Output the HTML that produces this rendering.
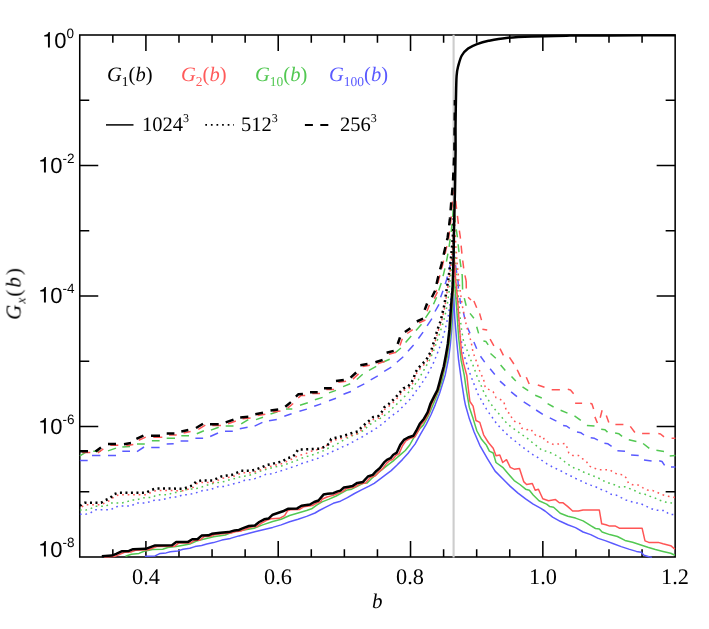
<!DOCTYPE html>
<html><head><meta charset="utf-8"><title>plot</title>
<style>
html,body{margin:0;padding:0;background:#fff;}
body{text-rendering:geometricPrecision;-webkit-font-smoothing:antialiased;width:709px;height:629px;position:relative;overflow:hidden;font-family:"Liberation Serif",serif;color:#000;}
.t{will-change:transform;position:absolute;white-space:nowrap;line-height:1;}
.xt{font-family:"Liberation Serif",serif;font-size:22.3px;transform:translateX(-50%);top:565.8px;}
.yt{font-family:"Liberation Sans",sans-serif;font-size:22px;text-align:right;right:635px;}
.yt sup{font-size:13.5px;vertical-align:baseline;position:relative;top:-10px;line-height:0;}
.z{display:inline-block;transform:scaleX(0.9);margin:0 -0.9px 0 -1px}
.one{display:inline-block;vertical-align:baseline;overflow:visible}
.lg{font-family:"Liberation Serif",serif;font-size:20.5px;top:64.5px;}
.lg i{font-style:italic;}
.lg sub{font-size:13.5px;vertical-align:baseline;position:relative;top:4.5px;line-height:0;}
.l2{font-family:"Liberation Serif",serif;font-size:20.5px;top:114.8px;}
.l2 sup{font-size:12px;vertical-align:baseline;position:relative;top:-9.5px;line-height:0;}
</style></head><body>
<svg width="709" height="629" viewBox="0 0 709 629" style="position:absolute;left:0;top:0">
<defs><clipPath id="cp"><rect x="79.0" y="34.2" width="597.0" height="523.6"/></clipPath></defs>
<g stroke="#000" stroke-width="1.55" fill="none">
<rect x="79.75" y="35.00" width="595.40" height="522.00"/>
<path d="M112.83 557.00 v-7.80 M112.83 35.00 v7.80"/>
<path d="M145.91 557.00 v-16.00 M145.91 35.00 v16.00"/>
<path d="M178.98 557.00 v-7.80 M178.98 35.00 v7.80"/>
<path d="M212.06 557.00 v-7.80 M212.06 35.00 v7.80"/>
<path d="M245.14 557.00 v-7.80 M245.14 35.00 v7.80"/>
<path d="M278.22 557.00 v-16.00 M278.22 35.00 v16.00"/>
<path d="M311.29 557.00 v-7.80 M311.29 35.00 v7.80"/>
<path d="M344.37 557.00 v-7.80 M344.37 35.00 v7.80"/>
<path d="M377.45 557.00 v-7.80 M377.45 35.00 v7.80"/>
<path d="M410.53 557.00 v-16.00 M410.53 35.00 v16.00"/>
<path d="M443.61 557.00 v-7.80 M443.61 35.00 v7.80"/>
<path d="M476.68 557.00 v-7.80 M476.68 35.00 v7.80"/>
<path d="M509.76 557.00 v-7.80 M509.76 35.00 v7.80"/>
<path d="M542.84 557.00 v-16.00 M542.84 35.00 v16.00"/>
<path d="M575.92 557.00 v-7.80 M575.92 35.00 v7.80"/>
<path d="M608.99 557.00 v-7.80 M608.99 35.00 v7.80"/>
<path d="M642.07 557.00 v-7.80 M642.07 35.00 v7.80"/>
<path d="M79.75 100.25 h9.50 M675.15 100.25 h-9.50"/>
<path d="M79.75 165.50 h18.50 M675.15 165.50 h-18.50"/>
<path d="M79.75 230.75 h9.50 M675.15 230.75 h-9.50"/>
<path d="M79.75 296.00 h18.50 M675.15 296.00 h-18.50"/>
<path d="M79.75 361.25 h9.50 M675.15 361.25 h-9.50"/>
<path d="M79.75 426.50 h18.50 M675.15 426.50 h-18.50"/>
<path d="M79.75 491.75 h9.50 M675.15 491.75 h-9.50"/>
</g>
<path d="M453.6 34.7 V557.4" stroke="#cdcdcd" stroke-width="2.1"/>
<g clip-path="url(#cp)">
<path d="M79.9 460.5 L87.7 460.5 M92.0 455.4 L100.4 455.4 M108.0 455.4 L116.0 455.4 M122.3 451.2 L130.0 451.2 M137.0 451.6 L144.0 447.0 M151.2 447.4 L159.6 447.4 M166.7 443.9 L173.7 443.7 M180.6 441.0 L188.3 441.0 M195.4 438.3 L203.1 438.3 M210.2 436.5 L218.0 433.0 M225.0 431.3 L232.8 431.3 M239.8 428.7 L247.6 427.3 M254.6 426.2 L262.4 422.4 M269.0 420.8 L276.8 419.4 M284.3 416.2 L291.6 413.8 M299.4 411.2 L306.9 409.1 M314.2 406.3 L321.2 403.9 M329.0 400.7 L336.0 398.3 M343.5 394.3 L350.9 391.5 M357.2 387.3 L364.3 383.8 M370.7 379.8 L377.8 375.9 M384.2 371.4 L391.3 367.1 M396.9 362.3 L403.3 356.8 M408.0 351.2 L413.6 344.9 M418.4 338.5 L423.1 332.1 M427.1 325.8 L431.9 318.6 M435.0 311.5 L439.0 304.3 M440.6 297.2 L443.0 290.8" stroke="#5a5aff" stroke-width="1.5" fill="none" stroke-linejoin="round" stroke-linecap="butt"/>
<path d="M443.0 290.8 L446.5 280.0 L449.5 268.0 L452.0 258.0 L453.8 253.0" stroke="#5a5aff" stroke-width="1.5" fill="none" stroke-linejoin="round" stroke-linecap="butt" stroke-dasharray="8 7" stroke-dashoffset="8"/>
<path d="M454.0 253.0 L455.5 265.0 L457.2 276.0 L458.0 281.0" stroke="#5a5aff" stroke-width="1.5" fill="none" stroke-linejoin="round" stroke-linecap="butt" stroke-dasharray="8 7" stroke-dashoffset="3"/>
<path d="M458.0 281.0 L458.4 288.6 M459.8 298.0 L460.6 304.0 M463.4 312.4 L464.9 319.1 M467.6 327.7 L470.0 333.4 M473.9 342.0 L476.7 348.7 M480.5 356.3 L484.7 362.1 M490.1 368.7 L494.8 374.5 M500.0 381.1 L505.3 385.9 M511.1 391.9 L517.0 396.7 M523.7 401.8 L530.4 406.2 M536.1 410.0 L542.8 414.4 M549.8 417.8 L556.4 421.1 M563.1 425.5 L566.5 426.0 L569.8 428.3 M577.0 432.1 L581.0 432.8 L584.0 435.0 M590.7 437.8 L594.5 438.3 L597.9 440.1 M604.4 443.2 L608.0 443.8 L611.6 446.4 M617.4 450.8 L625.0 451.2 M631.1 455.0 L638.7 455.5 M644.0 460.1 L651.6 461.1 M659.2 460.7 L662.0 461.5 L664.6 465.4 M671.0 467.0 L675.4 467.0" stroke="#5a5aff" stroke-width="1.5" fill="none" stroke-linejoin="round" stroke-linecap="butt"/>
<path d="M79.9 455.8 L85.6 452.3 M93.3 451.2 L101.0 451.2 M108.0 450.9 L116.0 448.1 M122.3 447.0 L130.0 446.4 M137.0 443.9 L144.8 443.9 M151.9 440.7 L159.6 440.7 M166.7 438.2 L175.0 438.3 M181.3 435.8 L189.0 435.8 M196.8 433.7 L203.9 430.8 M210.9 430.1 L218.7 427.3 M225.7 425.9 L233.5 425.9 M241.2 423.8 L248.3 419.6 M256.0 419.6 L263.0 417.2 M270.5 414.0 L277.5 411.9 M286.0 409.1 L292.3 409.1 M300.0 405.3 L307.8 402.8 M314.9 399.7 L322.6 397.4 M329.0 392.9 L336.0 390.4 M343.1 386.6 L350.2 383.7 M356.8 379.5 L362.7 374.3 M369.0 370.3 L376.2 366.3 M382.6 362.3 L389.7 359.2 M395.3 352.8 L400.9 348.0 M405.6 342.5 L411.2 336.1 M416.0 330.5 L421.5 324.2 M425.5 317.8 L430.3 310.7 M433.5 304.3 L436.6 297.2" stroke="#52c852" stroke-width="1.5" fill="none" stroke-linejoin="round" stroke-linecap="butt"/>
<path d="M436.6 297.2 L441.9 280.9 L446.0 264.0 L448.6 250.0 L451.2 232.0 L452.8 215.0 L453.6 204.5" stroke="#52c852" stroke-width="1.5" fill="none" stroke-linejoin="round" stroke-linecap="butt" stroke-dasharray="8 7" stroke-dashoffset="8"/>
<path d="M453.7 204.5 L455.2 222.0 L457.4 237.2 L459.4 256.3 L462.2 275.4 L462.4 282.0" stroke="#52c852" stroke-width="1.5" fill="none" stroke-linejoin="round" stroke-linecap="butt" stroke-dasharray="8 7" stroke-dashoffset="5"/>
<path d="M462.4 282.0 L462.6 289.5 M464.3 298.1 L466.2 305.8 M470.0 313.4 L473.9 318.2 M476.7 326.8 L478.6 333.4 M483.4 341.1 L486.0 341.6 L488.2 344.9 M490.5 353.5 L495.8 358.2 M500.6 364.9 L505.3 370.6 M511.5 376.4 L515.8 381.1 M522.5 386.9 L528.2 390.7 M535.2 395.3 L541.8 398.0 M547.6 403.7 L553.6 407.0 M560.6 410.2 L567.5 413.1 M574.5 415.9 L580.8 420.3 M586.9 425.5 L594.5 426.0 M601.2 429.3 L605.0 429.8 L607.5 432.1 M615.1 433.1 L619.0 433.8 L622.1 436.3 M628.8 439.7 L636.4 441.6 M643.1 443.5 L649.3 448.3 M656.4 450.2 L664.0 451.5 M669.7 455.9 L675.4 455.4" stroke="#52c852" stroke-width="1.5" fill="none" stroke-linejoin="round" stroke-linecap="butt"/>
<path d="M82.2 452.6 L90.3 452.6 M97.8 453.0 L103.3 448.8 M110.3 445.3 L118.3 445.3 M126.3 445.7 L133.3 444.5 M138.7 440.3 L145.7 437.1 M153.3 437.2 L162.3 437.2 M169.0 434.9 L176.7 435.0 M183.6 432.9 L190.6 431.5 M198.3 429.4 L205.3 425.2 M212.3 425.6 L221.0 425.6 M228.0 423.8 L235.8 421.0 M242.5 418.8 L250.6 418.1 M257.6 415.6 L265.3 414.2 M272.8 411.9 L280.5 410.9 M287.6 408.1 L293.2 403.5 M298.2 398.0 L300.8 395.6 L305.2 395.4 M312.3 393.6 L320.0 393.6 M326.3 389.6 L334.1 389.6 M338.3 382.3 L346.1 381.3 M352.9 379.1 L358.5 373.9 M362.6 366.6 L369.8 365.3 M377.7 363.7 L384.9 361.4 M388.9 354.2 L396.0 352.3 M400.0 345.4 L402.3 338.8 M407.2 333.5 L412.7 329.6 M419.1 322.9 L425.4 320.0 M427.0 311.3 L429.4 304.9 M434.2 298.6 L437.4 292.2" stroke="#ff5555" stroke-width="1.5" fill="none" stroke-linejoin="round" stroke-linecap="butt"/>
<path d="M436.1 291.8 L438.6 280.2 L442.6 265.0 L446.0 249.7 L448.7 238.2 L451.0 219.2 L452.5 200.0 L454.5 190.0" stroke="#ff5555" stroke-width="1.5" fill="none" stroke-linejoin="round" stroke-linecap="butt" stroke-dasharray="8 7" stroke-dashoffset="6"/>
<path d="M454.6 190.0 L456.1 204.8 L458.4 223.9 L460.3 237.2 L462.2 256.3 L464.1 271.6 L466.2 281.0" stroke="#ff5555" stroke-width="1.5" fill="none" stroke-linejoin="round" stroke-linecap="butt" stroke-dasharray="8 7" stroke-dashoffset="4"/>
<path d="M466.2 281.0 L466.3 288.6 M468.1 297.2 L471.0 300.0 M473.9 301.0 L476.7 307.7 M479.6 313.4 L481.5 320.1 M482.4 329.2 L487.2 330.0 M490.1 339.2 L493.9 345.8 M500.0 348.7 L503.4 355.4 M509.5 357.3 L513.9 364.0 M517.2 369.7 L520.6 376.9 M526.3 377.3 L529.2 384.0 M537.8 385.0 L544.5 387.3 M551.7 389.7 L559.9 389.7 M567.8 389.3 L570.5 390.0 L573.6 393.7 M575.1 403.2 L582.1 403.2 M590.3 403.2 L592.0 404.0 L593.6 408.9 M594.9 416.9 L597.4 423.0 M600.2 417.8 L602.1 410.2 M606.3 415.4 L608.8 422.6 M615.4 424.5 L623.4 424.5 M630.3 426.4 L634.9 432.5 M642.1 433.5 L649.7 433.5 M658.3 433.6 L660.5 434.0 L664.0 436.9 M671.6 438.2 L675.4 438.2" stroke="#ff5555" stroke-width="1.5" fill="none" stroke-linejoin="round" stroke-linecap="butt"/>
<path d="M79.9 451.2 L88.0 451.2 M95.5 451.6 L101.0 447.4 M108.0 443.9 L116.0 443.9 M124.0 444.3 L131.0 443.1 M136.4 438.9 L143.4 435.7 M151.0 435.8 L160.0 435.8 M166.7 433.5 L174.4 433.6 M181.3 431.5 L188.3 430.1 M196.0 428.0 L203.0 423.8 M210.0 424.2 L218.7 424.2 M225.7 422.4 L233.5 419.6 M240.2 417.4 L248.3 416.7 M255.3 414.2 L263.0 412.8 M270.5 410.5 L278.2 409.5 M285.3 406.7 L290.9 402.1 M295.9 396.6 L298.5 394.2 L302.9 394.0 M310.0 392.2 L317.7 392.2 M324.0 388.2 L331.8 388.2 M336.0 380.9 L343.8 379.9 M350.6 377.7 L356.2 372.5 M360.3 365.2 L367.5 363.9 M375.4 362.3 L382.6 360.0 M386.6 352.8 L393.7 350.9 M397.7 344.0 L400.0 337.4 M404.9 332.1 L410.4 328.2 M416.8 321.5 L423.1 318.6 M424.7 309.9 L427.1 303.5 M431.9 297.2 L435.1 290.8" stroke="#000" stroke-width="2.5" fill="none" stroke-linejoin="round" stroke-linecap="butt"/>
<path d="M435.1 290.8 L437.6 279.2 L441.6 264.0 L445.0 248.7 L447.7 237.2 L450.0 218.2 L451.5 199.0 L452.9 183.8 L454.4 150.0 L454.9 100.0" stroke="#000" stroke-width="2.5" fill="none" stroke-linejoin="round" stroke-linecap="butt" stroke-dasharray="8 7" stroke-dashoffset="8"/>
<path d="M79.9 514.3 L85.6 514.3 L90.5 512.9 L94.7 509.8 L111.0 509.8 L115.2 506.8 L120.1 506.1 L131.4 506.1 L135.6 503.0 L146.9 503.0 L151.2 500.9 L156.8 499.9 L161.7 499.9 L166.7 498.4 L172.2 497.1 L177.8 497.1 L182.7 494.7 L187.6 494.7 L193.3 493.6 L198.2 492.2 L203.8 490.1 L208.8 490.1 L213.7 488.4 L218.7 486.5 L224.3 486.5 L229.2 484.9 L234.9 483.4 L239.8 482.3 L244.8 480.2 L250.4 479.5 L255.3 478.4 L261.0 476.4 L266.0 474.3 L271.2 473.8 L276.1 472.4 L281.7 470.6 L287.1 468.9 L292.3 467.1 L297.3 465.4 L302.5 463.3 L307.4 461.8 L312.8 460.0 L318.0 458.3 L323.1 455.8 L328.0 453.7 L332.9 451.3 L338.2 449.0 L343.1 446.6 L348.0 444.5 L353.0 441.8 L357.8 439.2 L362.7 436.6 L367.6 433.5 L371.9 431.0 L376.8 427.9 L381.3 424.6 L385.3 421.3 L389.5 417.6 L394.0 414.2 L398.4 411.0 L402.2 407.2 L406.1 403.2 L410.0 399.3 L413.5 394.7 L416.7 390.2 L420.1 386.0 L423.1 381.3 L426.2 376.7 L427.9 373.5 L432.7 364.7 L436.6 355.2 L440.6 344.9 L443.8 334.5 L446.2 325.0 L448.3 315.4 L449.8 305.9 L451.5 292.0 L452.8 278.0 L453.8 266.0 L455.5 288.0 L457.5 310.0 L459.2 326.0 L460.5 337.2 L461.8 343.0 L463.4 353.5 L465.3 359.2 L466.8 364.0 L468.7 369.7 L470.6 375.4 L472.5 380.2 L474.4 385.0 L476.7 390.7 L477.9 393.8 L480.8 399.2 L483.6 404.3 L486.5 409.1 L489.7 413.9 L492.8 418.2 L496.0 422.8 L499.8 427.2 L503.7 431.0 L507.5 434.8 L511.3 438.1 L515.7 441.5 L519.9 445.0 L524.1 448.2 L528.5 451.5 L533.2 454.9 L538.0 457.7 L542.8 461.0 L546.9 463.8 L551.7 466.5 L556.8 469.0 L561.8 471.4 L566.3 473.8 L571.3 476.2 L575.8 478.5 L581.2 481.0 L585.9 483.2 L590.7 485.1 L596.0 487.0 L601.2 489.5 L606.3 491.4 L611.3 494.3 L616.4 495.2 L621.2 497.7 L625.9 500.0 L630.7 501.5 L635.4 502.8 L640.2 503.4 L645.0 505.7 L649.7 508.0 L654.5 509.9 L660.2 510.5 L665.0 510.5 L668.8 514.3 L675.4 514.7" stroke="#5a5aff" stroke-width="1.5" fill="none" stroke-linejoin="round" stroke-linecap="butt" stroke-dasharray="1.7 3.8"/>
<path d="M79.9 510.1 L85.6 510.1 L90.5 508.7 L95.5 506.3 L106.0 506.3 L110.3 503.0 L121.5 503.0 L126.5 502.0 L131.4 499.9 L137.1 499.9 L141.3 498.1 L147.0 497.4 L152.6 497.4 L156.8 494.8 L168.1 494.8 L173.0 492.6 L178.5 492.5 L183.4 490.1 L188.3 489.4 L194.0 488.7 L198.9 488.0 L203.8 486.3 L209.5 484.4 L214.4 483.0 L220.0 482.3 L225.0 481.3 L230.6 479.5 L235.6 478.4 L240.5 476.7 L246.2 476.0 L251.8 474.6 L256.7 472.7 L261.7 470.5 L266.9 469.2 L271.9 467.8 L277.5 466.4 L282.9 465.6 L288.1 463.5 L293.0 461.8 L298.4 459.7 L303.3 457.5 L308.5 456.1 L313.8 454.4 L318.7 452.5 L323.8 450.6 L328.6 448.0 L333.7 445.9 L338.6 443.1 L343.1 440.3 L348.0 437.7 L353.0 435.4 L358.2 433.5 L363.0 430.7 L366.9 427.2 L371.2 423.7 L375.7 420.8 L380.3 418.4 L384.8 415.2 L389.2 411.7 L393.0 407.7 L397.0 403.9 L400.8 400.4 L404.7 396.4 L408.3 392.6 L412.1 388.7 L415.4 383.9 L418.4 379.9 L420.2 376.4 L424.7 368.7 L429.5 360.0 L433.5 351.2 L436.6 342.5 L439.8 332.9 L443.0 323.4 L445.4 313.8 L447.3 304.3 L448.9 293.2 L450.5 278.0 L452.0 260.0 L453.2 243.0 L453.8 231.0 L455.2 255.0 L457.0 280.0 L459.0 305.0 L460.5 321.0 L461.8 331.5 L463.7 342.0 L466.2 347.7 L468.1 353.5 L470.0 358.2 L472.5 364.0 L474.4 368.7 L476.3 374.5 L478.2 379.2 L480.5 384.0 L482.8 389.7 L484.6 393.8 L487.4 398.6 L490.3 403.0 L493.2 407.2 L497.0 411.9 L500.8 415.8 L504.2 420.5 L508.1 424.4 L512.3 427.8 L516.5 430.5 L520.8 433.9 L525.2 436.8 L529.4 440.0 L533.2 443.4 L537.4 446.3 L541.8 450.1 L546.9 451.5 L552.2 453.4 L556.8 455.9 L561.2 458.8 L565.0 462.0 L569.6 465.3 L574.2 468.0 L579.1 469.7 L584.0 472.3 L588.8 474.2 L594.1 476.2 L599.3 478.5 L604.0 481.0 L609.4 483.2 L614.5 484.8 L619.3 487.0 L624.6 486.7 L629.7 488.6 L634.5 490.5 L639.8 493.3 L645.0 494.3 L649.7 496.2 L654.5 497.7 L659.2 500.0 L664.6 501.9 L669.7 502.8 L675.4 503.5" stroke="#52c852" stroke-width="1.5" fill="none" stroke-linejoin="round" stroke-linecap="butt" stroke-dasharray="1.7 3.8"/>
<path d="M80.5 507.8 L85.2 504.7 L101.7 504.7 L105.9 502.2 L110.9 500.1 L114.4 496.3 L119.3 494.7 L146.8 494.7 L151.1 492.3 L156.0 490.6 L172.9 490.6 L184.0 490.7 L188.2 489.2 L193.2 487.4 L196.7 483.6 L201.9 482.5 L212.9 482.5 L217.8 480.4 L222.1 478.4 L227.7 477.5 L232.7 476.8 L237.6 474.7 L241.8 472.7 L252.4 472.7 L258.0 470.9 L263.0 469.1 L267.5 466.9 L272.5 466.0 L277.8 464.5 L283.1 463.4 L285.3 462.1 L290.2 460.0 L295.1 457.2 L299.8 455.1 L305.0 454.1 L310.0 451.5 L314.9 450.4 L319.5 449.0 L324.5 447.0 L328.5 444.2 L333.2 439.8 L336.6 439.7 L342.3 438.3 L347.9 436.6 L353.1 434.8 L358.4 433.4 L361.9 429.5 L366.1 425.7 L370.1 422.4 L373.9 419.0 L379.2 417.9 L382.3 414.0 L384.9 409.2 L389.4 405.9 L392.9 402.7 L396.7 398.9 L400.1 394.6 L403.8 390.4 L408.8 388.2 L412.0 384.5 L414.3 379.8 L415.7 374.7 L418.9 369.9 L422.8 365.9 L426.8 362.0 L429.2 357.2 L431.6 353.2 L433.2 347.6 L434.8 342.9 L436.4 337.3 L437.9 331.7 L440.0 326.2 L441.6 321.4 L442.7 315.8 L444.0 311.1 L445.1 305.5 L445.9 299.9 L446.7 294.4 L448.7 282.0 L450.3 270.0 L451.8 257.0 L453.1 242.0 L454.0 227.0 L454.2 215.0 L455.5 240.0 L457.0 262.0 L459.0 282.0 L461.0 297.0 L463.0 309.6 L464.3 315.3 L466.2 324.8 L469.1 335.3 L471.0 341.1 L472.9 351.6 L474.8 357.3 L476.7 362.1 L478.6 367.8 L480.5 373.5 L483.4 378.3 L485.3 387.8 L489.1 389.7 L493.2 391.9 L496.0 397.6 L499.8 399.2 L503.7 401.5 L505.6 408.1 L506.9 411.9 L510.3 413.9 L512.3 419.6 L516.1 422.4 L519.9 423.4 L521.8 428.2 L526.0 429.7 L531.0 429.1 L533.2 432.9 L537.1 436.8 L542.8 436.2 L544.7 440.6 L548.8 442.6 L553.6 444.5 L559.3 443.9 L565.0 443.5 L567.5 448.3 L568.8 453.1 L572.6 455.4 L578.3 455.4 L582.1 458.4 L586.5 461.6 L589.2 466.0 L593.6 467.9 L598.3 469.7 L609.7 469.7 L613.5 472.5 L618.3 474.5 L623.1 474.7 L626.5 478.1 L628.4 483.2 L632.6 484.8 L638.3 485.1 L642.5 487.6 L647.4 490.1 L652.6 490.5 L657.3 492.4 L662.1 494.7 L667.8 496.2 L673.0 497.1 L675.4 497.5" stroke="#ff5555" stroke-width="1.5" fill="none" stroke-linejoin="round" stroke-linecap="butt" stroke-dasharray="1.7 3.8" stroke-dashoffset="-1.6"/>
<path d="M79.9 505.8 L84.6 502.7 L101.1 502.7 L105.3 500.2 L110.3 498.1 L113.8 494.3 L118.7 492.7 L146.2 492.7 L150.5 490.3 L155.4 488.6 L172.3 488.6 L183.4 488.7 L187.6 487.2 L192.6 485.4 L196.1 481.6 L201.3 480.5 L212.3 480.5 L217.2 478.4 L221.5 476.4 L227.1 475.5 L232.1 474.8 L237.0 472.7 L241.2 470.7 L251.8 470.7 L257.4 468.9 L262.4 467.1 L266.9 464.9 L271.9 464.0 L277.2 462.5 L282.5 461.4 L286.7 458.3 L291.6 457.2 L295.6 454.1 L298.0 449.4 L302.9 449.4 L319.8 448.7 L324.8 446.6 L329.0 443.8 L331.1 438.9 L336.0 437.7 L341.7 436.3 L347.3 434.6 L352.5 432.8 L357.8 431.4 L361.3 427.5 L365.5 423.7 L369.5 420.4 L373.3 417.0 L378.6 415.9 L381.7 412.0 L384.3 407.2 L388.8 403.9 L392.3 400.7 L396.1 396.9 L399.6 392.6 L403.3 388.4 L408.3 386.2 L411.5 382.5 L413.8 377.8 L415.2 372.7 L418.4 367.9 L422.3 363.9 L426.3 360.0 L428.7 355.2 L431.1 351.2 L432.7 345.6 L434.3 340.9 L435.9 335.3 L437.4 329.7 L439.5 324.2 L441.1 319.4 L442.2 313.8 L443.5 309.1 L444.6 303.5 L445.4 297.9 L446.2 292.4 L448.2 280.0 L449.8 268.0 L451.3 255.0 L452.6 240.0 L453.5 225.0 L454.0 215.0" stroke="#000" stroke-width="2.5" fill="none" stroke-linejoin="round" stroke-linecap="butt" stroke-dasharray="2.0 3.5"/>
<path d="M144.9 556.3 L155.1 555.9 L160.2 553.4 L166.1 552.9 L170.3 551.7 L177.9 550.9 L183.0 549.2 L189.8 548.3 L194.9 546.6 L201.6 545.4 L206.7 544.1 L213.5 542.6 L221.9 540.1 L230.4 538.4 L238.9 535.9 L247.3 533.8 L255.8 531.6 L264.2 529.4 L272.7 527.4 L281.2 524.9 L289.6 521.8 L298.1 519.3 L306.6 516.4 L315.0 513.0 L319.2 510.5 L326.3 506.9 L333.3 503.3 L340.4 501.2 L347.4 497.7 L354.5 493.5 L361.5 489.9 L368.6 486.4 L374.2 483.3 L379.9 479.1 L385.5 474.9 L391.2 470.6 L396.8 465.3 L402.4 459.6 L408.1 453.3 L412.3 447.6 L415.0 444.1 L420.5 434.2 L426.2 424.4 L431.1 414.5 L435.3 404.6 L439.6 393.3 L443.1 382.1 L445.2 375.0 L448.6 358.4 L450.3 345.0 L451.7 329.7 L453.0 308.0 L453.6 294.5 L454.8 318.2 L456.7 341.1 L458.6 360.2 L461.5 381.1 L464.3 399.3 L465.5 405.3 L469.3 418.6 L474.1 432.0 L479.8 445.3 L487.4 458.7 L495.1 471.1 L502.7 478.7 L510.3 486.4 L518.0 493.1 L525.6 498.8 L533.2 504.1 L540.9 508.3 L545.0 511.0 L552.6 517.1 L560.2 521.3 L567.8 524.7 L575.5 527.6 L583.1 532.0 L590.7 534.6 L598.3 538.4 L605.9 540.9 L613.5 543.8 L621.2 546.6 L628.8 549.1 L636.4 551.4 L641.2 552.3 L644.0 555.2 L648.8 556.7 L652.0 557.5" stroke="#5a5aff" stroke-width="1.5" fill="none" stroke-linejoin="round" stroke-linecap="butt"/>
<path d="M125.5 556.3 L131.4 554.2 L139.0 553.4 L144.1 551.2 L152.6 549.5 L162.7 549.2 L167.8 547.5 L176.2 546.6 L184.7 544.9 L189.8 544.1 L196.6 541.0 L203.3 539.2 L208.5 538.1 L213.5 536.7 L225.3 535.0 L233.8 531.6 L243.9 529.9 L254.1 528.2 L262.6 524.9 L272.7 521.5 L281.2 519.3 L289.6 515.5 L298.1 513.0 L306.6 510.5 L311.6 508.8 L316.7 505.2 L322.1 501.9 L329.1 499.1 L336.2 496.0 L343.2 492.1 L347.4 489.9 L351.7 489.2 L357.3 486.4 L363.0 483.3 L367.2 482.9 L371.4 478.7 L377.1 473.7 L382.7 469.2 L388.3 464.6 L394.0 460.3 L399.6 455.4 L405.3 450.5 L409.7 445.0 L413.0 439.2 L416.3 434.2 L419.8 428.6 L423.3 425.1 L428.3 415.9 L432.5 406.0 L436.0 397.6 L439.6 388.4 L442.4 379.2 L445.0 367.0 L447.0 358.4 L449.3 343.0 L451.0 329.7 L452.5 305.9 L453.3 288.0 L453.6 277.0 L455.2 290.0 L456.7 308.6 L458.6 337.2 L461.1 360.2 L464.3 375.4 L466.2 388.8 L469.3 407.2 L473.1 418.6 L476.9 431.0 L481.7 439.6 L486.5 445.3 L489.4 451.1 L493.2 453.0 L496.0 462.5 L502.7 467.3 L508.4 474.0 L514.2 480.6 L519.9 484.5 L525.6 489.2 L529.4 490.2 L533.2 495.0 L539.0 500.7 L546.6 504.1 L549.8 506.6 L553.6 507.2 L560.2 513.3 L567.8 516.2 L575.5 518.1 L583.1 520.9 L590.7 525.7 L595.5 528.5 L599.3 528.9 L602.1 532.0 L609.7 534.6 L617.4 536.5 L625.0 540.4 L632.6 542.3 L640.2 544.7 L647.8 547.2 L655.4 549.5 L663.0 551.4 L670.7 553.3 L674.9 555.2" stroke="#52c852" stroke-width="1.5" fill="none" stroke-linejoin="round" stroke-linecap="butt"/>
<path d="M104.2 557.3 L114.3 556.6 L118.6 554.9 L124.5 552.2 L131.3 551.9 L135.5 550.2 L148.2 549.8 L157.5 546.4 L174.4 546.3 L178.6 543.1 L190.5 542.9 L194.7 540.3 L199.8 540.3 L204.0 536.6 L210.8 536.3 L214.2 534.8 L222.6 533.8 L231.1 533.1 L237.0 531.4 L241.3 530.9 L245.5 529.2 L251.4 527.0 L257.3 526.4 L261.6 523.0 L266.6 520.3 L271.0 518.8 L279.5 518.3 L284.6 515.7 L287.5 510.8 L290.3 509.8 L299.6 509.4 L303.9 506.7 L312.3 505.5 L316.6 503.0 L320.9 501.5 L322.0 499.3 L327.0 497.0 L333.0 495.4 L335.7 494.2 L340.0 492.4 L342.8 491.6 L346.3 488.5 L351.3 487.7 L354.8 487.1 L359.7 483.9 L365.4 482.9 L370.3 477.5 L375.2 475.9 L378.8 471.9 L382.3 469.1 L386.5 463.4 L389.3 460.9 L392.9 459.2 L395.7 455.7 L399.1 453.6 L402.5 445.8 L405.9 440.9 L409.9 438.5 L414.9 436.8 L417.8 431.7 L421.1 424.7 L425.1 419.7 L428.6 413.4 L431.3 404.9 L434.6 397.9 L437.9 391.2 L440.1 383.1 L441.9 376.0 L444.3 367.3 L446.7 354.6 L448.3 345.0 L449.9 330.7 L451.0 314.8 L452.2 298.9 L453.0 291.0 L453.7 271.0 L454.3 258.0 L455.7 280.0 L457.6 299.1 L459.5 327.7 L461.5 352.5 L463.7 364.0 L466.8 375.4 L468.1 386.9 L469.9 401.5 L473.1 406.2 L476.0 420.5 L479.8 422.4 L483.6 434.8 L488.4 442.5 L493.2 448.2 L496.0 455.8 L499.8 454.9 L502.7 462.5 L506.5 459.7 L510.3 467.3 L514.2 469.2 L519.5 468.6 L523.7 481.6 L526.6 484.5 L532.3 483.5 L535.2 490.2 L538.4 489.2 L542.8 498.8 L548.5 500.7 L555.5 499.6 L559.3 502.8 L563.1 502.8 L567.8 506.6 L572.6 511.0 L578.3 511.0 L583.1 509.9 L599.3 509.9 L601.7 523.8 L605.9 524.7 L609.7 526.1 L615.5 526.1 L619.3 528.2 L642.1 528.2 L645.0 540.9 L648.8 542.4 L658.3 542.4 L663.0 543.8 L670.7 545.7 L674.9 549.1" stroke="#ff5555" stroke-width="1.5" fill="none" stroke-linejoin="round" stroke-linecap="butt"/>
<path d="M101.8 556.3 L111.9 555.6 L116.2 553.9 L122.1 551.2 L128.9 550.9 L133.1 549.2 L145.8 548.8 L155.1 545.4 L172.0 545.3 L176.2 542.1 L188.1 541.9 L192.3 539.3 L197.4 539.3 L201.6 535.6 L208.4 535.3 L211.8 533.8 L220.2 532.8 L228.7 532.1 L234.6 530.4 L238.9 529.9 L243.1 528.2 L249.0 526.0 L254.9 525.4 L259.2 522.0 L264.2 519.3 L268.5 518.6 L272.7 514.7 L277.8 513.0 L282.9 511.3 L287.9 508.8 L297.2 508.4 L301.5 505.7 L309.9 504.5 L314.2 502.0 L318.5 500.5 L323.5 494.6 L327.7 493.8 L333.3 493.2 L337.6 491.4 L340.4 490.6 L343.9 487.5 L348.9 486.7 L352.4 486.1 L357.3 482.9 L363.0 481.9 L367.9 476.5 L372.8 474.9 L376.4 470.9 L379.9 468.1 L384.1 462.4 L386.9 459.9 L390.5 458.2 L393.3 454.7 L396.8 452.6 L400.3 444.8 L403.9 439.9 L408.1 437.5 L413.3 435.8 L416.3 430.7 L419.8 423.7 L424.0 418.7 L427.6 412.4 L430.4 403.9 L433.9 396.9 L437.4 390.2 L439.6 382.1 L441.4 375.0 L443.8 366.3 L446.2 353.6 L447.8 344.0 L449.4 329.7 L450.5 313.8 L451.7 297.9 L452.5 290.0 L453.2 270.0 L453.7 250.0 L454.1 225.0 L455.0 190.0 L455.6 150.0 L455.5 126.7  C455.5 126.7 455.4 130.9 455.5 126.7 C455.6 122.5 455.7 109.8 455.9 101.3 C456.1 92.8 456.2 81.8 456.6 75.9 C457.0 70.0 457.4 69.1 458.3 65.7 C459.2 62.3 460.2 58.4 461.8 55.5 C463.4 52.6 465.6 50.5 468.1 48.6 C470.6 46.7 473.6 45.4 477.0 44.1 C480.4 42.8 483.6 41.8 488.5 40.8 C493.4 39.8 499.1 38.6 506.3 37.9 C513.5 37.2 521.1 36.8 531.7 36.4 C542.3 36.0 556.8 35.8 569.8 35.6 C582.8 35.4 592.4 35.5 610.0 35.4 C627.6 35.3 664.5 35.2 675.4 35.2" stroke="#000" stroke-width="2.5" fill="none" stroke-linejoin="round" stroke-linecap="butt"/>
</g>
<path d="M106 124.9 H133.5" stroke="#000" stroke-width="1.5"/>
<path d="M205.3 124.9 H234" stroke="#000" stroke-width="1.7" stroke-dasharray="1.7 3.9"/>
<path d="M304.9 125 H329" stroke="#000" stroke-width="1.8" stroke-dasharray="8 7.4"/>
</svg>
<div class="t yt" style="top:29.9px"><svg class="one" width="12.23" height="15.6" viewBox="0 0 556 709"><path d="M359 709V0H301C285 80 215 135 101 146V204H271V709Z" fill="#000"/></svg>0<sup>0</sup></div>
<div class="t yt" style="top:155px"><svg class="one" width="12.23" height="15.6" viewBox="0 0 556 709"><path d="M359 709V0H301C285 80 215 135 101 146V204H271V709Z" fill="#000"/></svg>0<sup>-2</sup></div>
<div class="t yt" style="top:285px"><svg class="one" width="12.23" height="15.6" viewBox="0 0 556 709"><path d="M359 709V0H301C285 80 215 135 101 146V204H271V709Z" fill="#000"/></svg>0<sup>-4</sup></div>
<div class="t yt" style="top:415.6px"><svg class="one" width="12.23" height="15.6" viewBox="0 0 556 709"><path d="M359 709V0H301C285 80 215 135 101 146V204H271V709Z" fill="#000"/></svg>0<sup>-6</sup></div>
<div class="t yt" style="top:538.8px"><svg class="one" width="12.23" height="15.6" viewBox="0 0 556 709"><path d="M359 709V0H301C285 80 215 135 101 146V204H271V709Z" fill="#000"/></svg>0<sup>-8</sup></div>
<div class="t xt" style="left:145.6px">0.4</div>
<div class="t xt" style="left:277.9px">0.6</div>
<div class="t xt" style="left:410.2px">0.8</div>
<div class="t xt" style="left:542.5px">1.0</div>
<div class="t xt" style="left:675.1px">1.2</div>
<div class="t" style="left:372px;top:590.5px;font-size:21px;font-style:italic">b</div>
<div class="t" style="left:13.8px;top:293.7px;font-size:21px;transform:translate(-50%,-50%) rotate(-90deg);"><i>G</i><sub style="font-size:13.5px;vertical-align:baseline;position:relative;top:4.5px;line-height:0;font-style:italic;margin-left:1px">x</sub><span style="margin-left:1px">(</span><i style="margin:0 2px 0 2px">b</i>)</div>
<div class="t lg" style="left:106.5px;color:#000"><i>G</i><sub>1</sub>(<i>b</i>)</div>
<div class="t lg" style="left:180.5px;color:#ff5a5a"><i>G</i><sub>2</sub>(<i>b</i>)</div>
<div class="t lg" style="left:255px;color:#52c852"><i>G</i><sub>10</sub>(<i>b</i>)</div>
<div class="t lg" style="left:329px;color:#5a5aff"><i>G</i><sub>100</sub>(<i>b</i>)</div>
<div class="t l2" style="left:142px">1024<sup>3</sup></div>
<div class="t l2" style="left:241px">512<sup>3</sup></div>
<div class="t l2" style="left:340px">256<sup>3</sup></div>
</body></html>
